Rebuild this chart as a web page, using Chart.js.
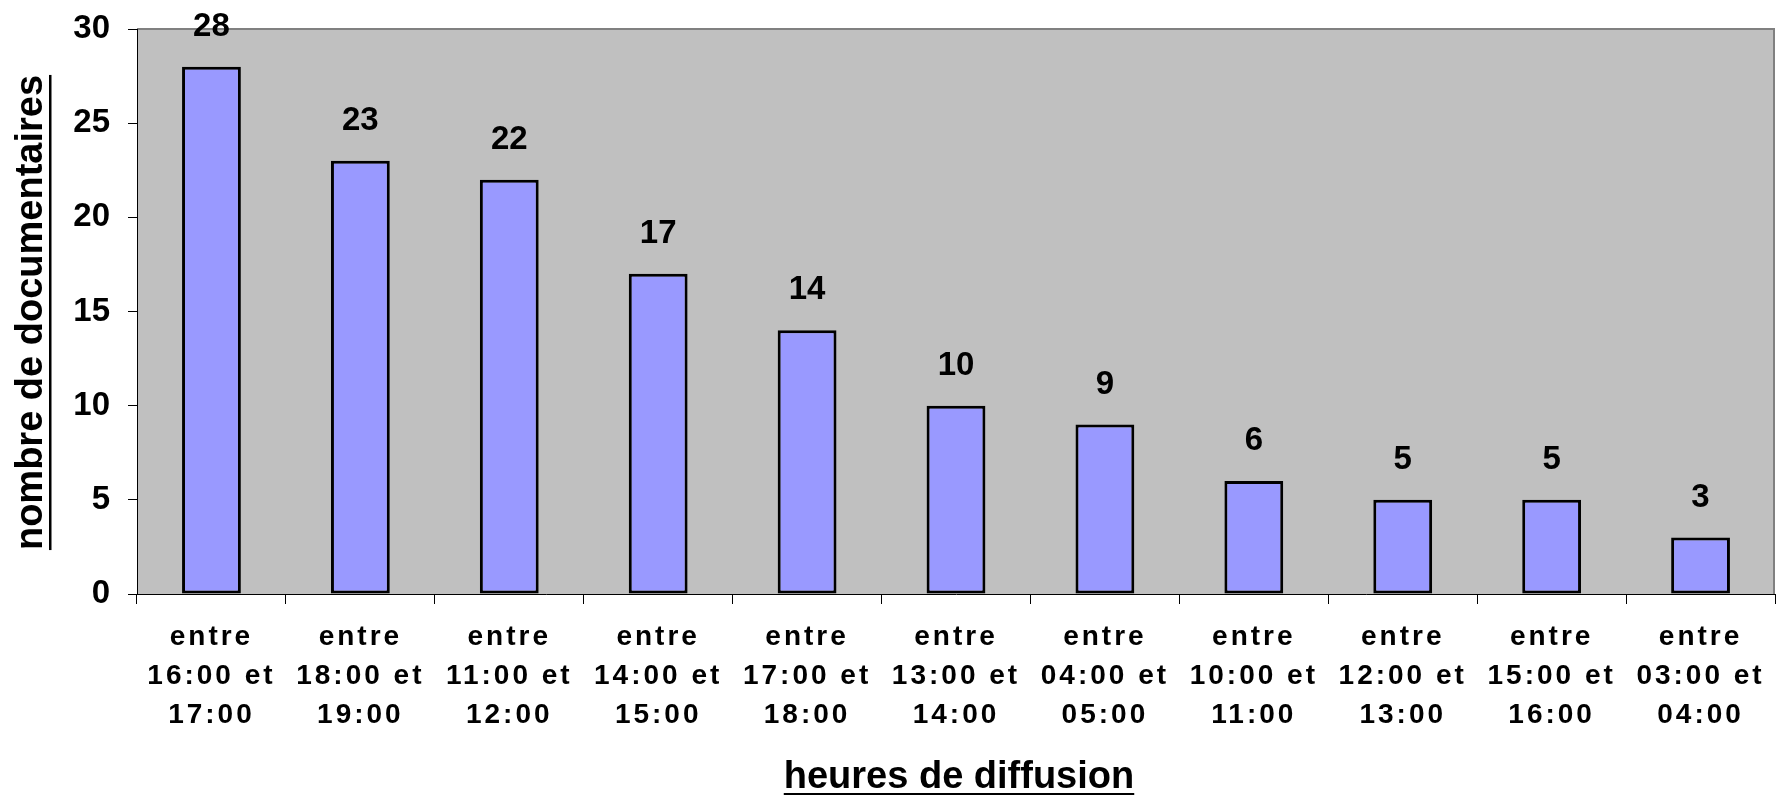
<!DOCTYPE html>
<html>
<head>
<meta charset="utf-8">
<script src="https://cdn.jsdelivr.net/npm/chart.js@4.4.1/dist/chart.umd.min.js"></script>
<style>
  html, body { margin: 0; padding: 0; background: #ffffff; }
  #wrap { width: 1776px; height: 795px; }
</style>
</head>
<body>
<div id="wrap"><canvas id="c" width="1776" height="795"></canvas></div>
<script>
// ---- data ----
const categories = [
  ["entre", "16:00 et", "17:00"],
  ["entre", "18:00 et", "19:00"],
  ["entre", "11:00 et", "12:00"],
  ["entre", "14:00 et", "15:00"],
  ["entre", "17:00 et", "18:00"],
  ["entre", "13:00 et", "14:00"],
  ["entre", "04:00 et", "05:00"],
  ["entre", "10:00 et", "11:00"],
  ["entre", "12:00 et", "13:00"],
  ["entre", "15:00 et", "16:00"],
  ["entre", "03:00 et", "04:00"]
];
const documentaries = [28, 23, 22, 17, 14, 10, 9, 6, 5, 5, 3];
const yTicks = [0, 5, 10, 15, 20, 25, 30];
const xTitle = "heures de diffusion";
const yTitle = "nombre de documentaires";

const FONT = "'Liberation Sans', Arial, Helvetica, sans-serif";

// plot background + border
const plotArea = {
  id: 'plotArea',
  beforeDraw(chart) {
    const { ctx, chartArea: a } = chart;
    ctx.save();
    ctx.fillStyle = '#C0C0C0';
    ctx.fillRect(a.left, a.top, a.right - a.left, a.bottom - a.top);
    ctx.strokeStyle = '#808080';
    ctx.lineWidth = 2;
    ctx.beginPath();
    ctx.moveTo(a.left, a.top);
    ctx.lineTo(a.right - 1, a.top);
    ctx.lineTo(a.right - 1, a.bottom);
    ctx.stroke();
    ctx.restore();
    // letter spacing for x tick labels
    const sx = chart.scales.x;
    if (sx && !sx._lsWrapped) {
      const orig = sx.drawLabels;
      sx.drawLabels = function (area) {
        const c = this.ctx;
        c.save();
        c.letterSpacing = '3px';
        orig.call(this, area);
        c.restore();
      };
      sx._lsWrapped = true;
    }
  }
};

// value labels above bars
const valueLabels = {
  id: 'valueLabels',
  afterDatasetsDraw(chart) {
    const { ctx } = chart;
    const meta = chart.getDatasetMeta(0);
    const data = chart.data.datasets[0].data;
    ctx.save();
    ctx.font = 'bold 33px ' + FONT;
    ctx.fillStyle = '#000';
    ctx.textAlign = 'center';
    ctx.textBaseline = 'alphabetic';
    meta.data.forEach((bar, i) => {
      ctx.fillText(String(data[i]), bar.x, bar.y - 31);
    });
    ctx.restore();
  }
};

// underlined axis titles
const axisTitles = {
  id: 'axisTitles',
  afterDraw(chart) {
    const { ctx, chartArea: a } = chart;
    ctx.save();
    ctx.font = 'bold 38px ' + FONT;
    ctx.fillStyle = '#000';
    ctx.textAlign = 'center';
    ctx.textBaseline = 'alphabetic';
    // x title
    const cx = (a.left + a.right) / 2 + 3;
    const by = 788;
    ctx.fillText(xTitle, cx, by);
    let w = ctx.measureText(xTitle).width;
    ctx.fillRect(cx - w / 2, by + 5, w, 2.5);
    // y title
    const cy = (a.top + a.bottom) / 2 + 1;
    ctx.translate(42, cy);
    ctx.rotate(-Math.PI / 2);
    ctx.fillText(yTitle, 0, 0);
    w = ctx.measureText(yTitle).width;
    ctx.fillRect(-w / 2, 7, w, 2.5);
    ctx.restore();
  }
};

new Chart(document.getElementById('c'), {
  type: 'bar',
  data: {
    labels: categories,
    datasets: [{
      data: documentaries,
      backgroundColor: '#9999FF',
      borderColor: '#000000',
      borderWidth: 3,
      borderSkipped: false,
      barPercentage: 0.395,
      categoryPercentage: 1.0
    }]
  },
  options: {
    responsive: false,
    devicePixelRatio: 1,
    animation: false,
    layout: { padding: { top: 29, right: 1, left: 0, bottom: 0 } },
    plugins: {
      legend: { display: false },
      tooltip: { enabled: false },
      title: { display: false }
    },
    scales: {
      x: {
        offset: true,
        grid: {
          offset: true,
          drawOnChartArea: false,
          drawTicks: true,
          tickLength: 10,
          color: '#000000',
          lineWidth: 1
        },
        border: { display: true, color: '#000000', width: 1 },
        ticks: {
          autoSkip: false,
          maxRotation: 0,
          minRotation: 0,
          padding: 14,
          color: '#000000',
          font: { family: FONT, size: 28, weight: 'bold', lineHeight: 1.39 }
        },
        afterFit(scale) {
          scale.height = 201;
          scale.paddingLeft = 0;
          scale.paddingRight = 0;
        }
      },
      y: {
        min: 0,
        max: 30,
        afterBuildTicks(scale) { scale.ticks = yTicks.map(v => ({ value: v })); },
        grid: {
          drawOnChartArea: false,
          drawTicks: true,
          tickLength: 9,
          color: '#000000',
          lineWidth: 1
        },
        border: { display: true, color: '#000000', width: 1 },
        ticks: {
          padding: 18,
          color: '#000000',
          font: { family: FONT, size: 33, weight: 'bold' }
        },
        afterFit(scale) {
          scale.width = 137;
          scale.paddingTop = 0;
          scale.paddingBottom = 0;
        }
      }
    }
  },
  plugins: [plotArea, valueLabels, axisTitles]
});
</script>
</body>
</html>
